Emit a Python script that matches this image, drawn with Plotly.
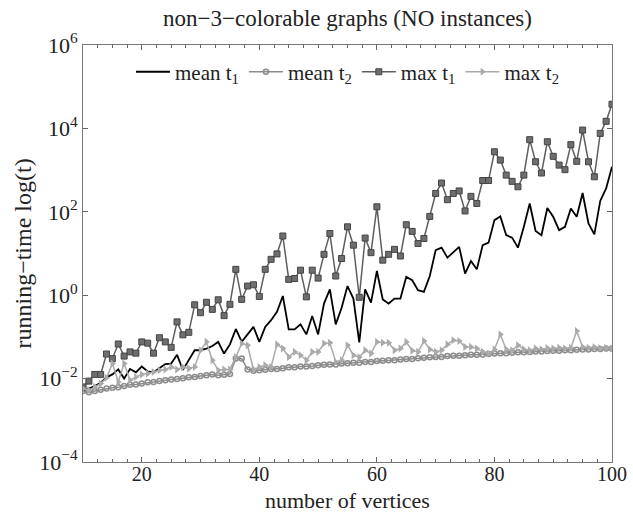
import numpy as np
import plotly.graph_objects as go

vertices = list(range(10, 101))

# values, stored as log10 of running time
mean_t1_log10 = [
    -2.28, -2.24, -2.18, -2.10, -1.97, -1.90, -1.78, -2.00, -1.77, -1.85,
    -1.71, -1.83, -1.85, -1.75, -1.65, -1.64, -1.43, -1.79, -1.56, -1.32,
    -1.32, -1.28, -1.22, -1.12, -1.40, -1.18, -0.81, -1.12, -0.94, -0.76,
    -1.12, -0.76, -0.60, -0.40, -0.02, -0.82, -0.82, -0.70, -0.94, -0.50,
    -0.94, -0.20, 0.14, -0.70, -0.30, 0.22, -0.08, -1.13, 0.14, -0.18,
    0.58, -0.10, -0.20, -0.08, -0.08, 0.44, 0.36, 0.12, 0.08, 0.46,
    1.08, 1.14, 0.90, 1.04, 1.16, 0.52, 0.82, 0.62, 1.20, 1.26,
    1.80, 1.89, 1.44, 1.38, 1.14, 1.64, 2.20, 1.54, 1.44, 2.09,
    1.88, 1.56, 1.64, 2.08, 1.88, 2.45, 1.72, 1.46, 2.26, 2.56,
    3.08,
]

mean_t2_log10 = [
    -2.30, -2.33, -2.30, -2.27, -2.24, -2.22, -2.21, -2.18, -2.15, -2.14,
    -2.12, -2.09, -2.08, -2.06, -2.04, -2.02, -2.01, -1.99, -1.97, -1.96,
    -1.94, -1.92, -1.90, -1.92, -1.91, -1.89, -1.52, -1.52, -1.78, -1.81,
    -1.80, -1.79, -1.77, -1.77, -1.75, -1.73, -1.73, -1.71, -1.71, -1.70,
    -1.68, -1.67, -1.66, -1.66, -1.64, -1.63, -1.62, -1.62, -1.60, -1.60,
    -1.58, -1.57, -1.56, -1.56, -1.54, -1.53, -1.53, -1.51, -1.50, -1.49,
    -1.48, -1.48, -1.46, -1.45, -1.45, -1.44, -1.43, -1.43, -1.42, -1.41,
    -1.40, -1.39, -1.39, -1.38, -1.37, -1.37, -1.36, -1.35, -1.35, -1.34,
    -1.33, -1.33, -1.32, -1.32, -1.31, -1.30, -1.30, -1.29, -1.29, -1.28,
    -1.28,
]

max_t1_log10 = [
    -2.20, -2.06, -1.90, -1.90, -1.41, -1.52, -1.17, -1.46, -1.36, -1.39,
    -1.12, -1.15, -1.39, -1.02, -1.12, -1.25, -0.64, -0.95, -0.89, -0.23,
    -0.42, -0.17, -0.34, -0.11, -0.49, -0.22, 0.62, -0.10, 0.22, 0.25,
    -0.03, 0.62, 0.86, 0.99, 1.42, 0.38, 0.40, 0.60, -0.04, 0.60,
    0.41, 0.98, 1.48, 0.46, 0.88, 1.64, 1.20, -0.05, 1.37, 1.02,
    2.12, 0.84, 0.98, 1.10, 0.94, 1.69, 1.53, 1.24, 1.36, 1.89,
    2.44, 2.69, 2.29, 2.44, 2.50, 2.02, 2.37, 2.20, 2.75, 2.75,
    3.44, 3.24, 2.88, 2.73, 2.60, 2.88, 3.73, 3.20, 2.93, 3.68,
    3.33, 3.12, 3.01, 3.61, 3.21, 3.96, 3.20, 2.84, 3.88, 4.17,
    4.58,
]

max_t2_log10 = [
    -2.24, -2.28, -2.20, -2.12, -1.98, -1.64, -2.08, -1.64, -2.04, -1.96,
    -1.90, -1.88, -1.84, -1.80, -1.78, -1.72, -1.78, -1.72, -1.76, -1.72,
    -1.32, -1.12, -1.56, -1.80, -1.78, -1.78, -1.48, -1.16, -1.20, -1.78,
    -1.72, -1.68, -1.72, -1.18, -1.28, -1.48, -1.36, -1.44, -1.56, -1.36,
    -1.36, -1.16, -1.14, -1.60, -1.56, -1.20, -1.44, -1.49, -1.32, -1.40,
    -1.12, -1.14, -1.14, -1.32, -1.28, -1.12, -1.33, -1.36, -1.10, -1.30,
    -1.36, -1.32, -1.18, -1.08, -1.10, -1.24, -1.24, -1.28, -1.36, -1.40,
    -1.30, -0.94, -1.30, -1.32, -1.20, -1.30, -1.32, -1.28, -1.30, -1.27,
    -1.28, -1.26, -1.28, -1.26, -0.86, -1.24, -1.26, -1.25, -1.27, -1.26,
    -1.28,
]

y_tick_exponents = [-4, -2, 0, 2, 4, 6]
x_tick_values = [20, 40, 60, 80, 100]

FONT = "Liberation Serif"
TXT = "#222222"

def to_seconds(log_values):
    return np.power(10.0, np.array(log_values))

fig = go.Figure()

fig.add_trace(go.Scatter(
    x=vertices, y=to_seconds(mean_t1_log10), name="mean t<sub>1</sub>",
    mode="lines", line=dict(color="#000000", width=1.8),
))
fig.add_trace(go.Scatter(
    x=vertices, y=to_seconds(mean_t2_log10), name="mean t<sub>2</sub>",
    mode="lines+markers", line=dict(color="#8c8c8c", width=1.5),
    marker=dict(symbol="circle-open", size=5, color="#8c8c8c", line=dict(width=1.5)),
))
fig.add_trace(go.Scatter(
    x=vertices, y=to_seconds(max_t1_log10), name="max t<sub>1</sub>",
    mode="lines+markers", line=dict(color="#5e5e5e", width=1.5),
    marker=dict(symbol="square", size=6, color="#6e6e6e", line=dict(color="#444444", width=1)),
))
fig.add_trace(go.Scatter(
    x=vertices, y=to_seconds(max_t2_log10), name="max t<sub>2</sub>",
    mode="lines+markers", line=dict(color="#aaaaaa", width=1.5),
    marker=dict(symbol="triangle-right", size=7, color="#aaaaaa"),
))

fig.update_layout(
    width=633, height=514,
    margin=dict(l=83, r=21, t=45, b=52, autoexpand=False),
    paper_bgcolor="white", plot_bgcolor="white",
    font=dict(family=FONT, size=20, color=TXT),
    title=dict(
        text="non\u22123\u2212colorable graphs (NO instances)",
        x=0.5, xanchor="center", xref="paper",
        y=1 - 18 / 514, yref="container", yanchor="middle",
        font=dict(family=FONT, size=23, color=TXT),
    ),
    legend=dict(
        orientation="h", x=0.5, xanchor="center", y=0.935, yanchor="middle",
        bgcolor="rgba(255,255,255,0)", font=dict(family=FONT, size=21),
        itemwidth=34, tracegroupgap=0,
    ),
    showlegend=True,
    annotations=[
        dict(text="number of vertices", xref="paper", yref="paper",
             x=0.5, y=-(500 - 462) / 417, xanchor="center", yanchor="middle",
             showarrow=False, font=dict(family=FONT, size=22, color=TXT)),
        dict(text="running\u2212time log(t)", xref="paper", yref="paper",
             x=-(83 - 22) / 529, y=0.5, xanchor="center", yanchor="middle",
             textangle=-90, showarrow=False, font=dict(family=FONT, size=24, color=TXT)),
    ],
)

fig.update_xaxes(
    range=[10, 100], tickvals=x_tick_values,
    ticks="inside", ticklen=5, tickcolor="#666666",
    showline=True, linecolor="#777777", linewidth=1, mirror="ticks",
    showgrid=False, zeroline=False, automargin=False,
    minor=dict(dtick=2.5, ticks="inside", ticklen=3, tickcolor="#666666"),
    tickfont=dict(family=FONT, size=20),
    ticklabelstandoff=-6,
)

fig.update_yaxes(
    type="log", range=[-4, 6],
    tickvals=[10.0 ** e for e in y_tick_exponents],
    ticktext=["10<sup>%s</sup>" % (str(e).replace("-", "\u2212")) for e in y_tick_exponents],
    ticks="inside", ticklen=5, tickcolor="#666666",
    showline=True, linecolor="#777777", linewidth=1, mirror="ticks",
    showgrid=False, zeroline=False, automargin=False,
    tickfont=dict(family=FONT, size=22),
)

fig.write_html("out.html")
